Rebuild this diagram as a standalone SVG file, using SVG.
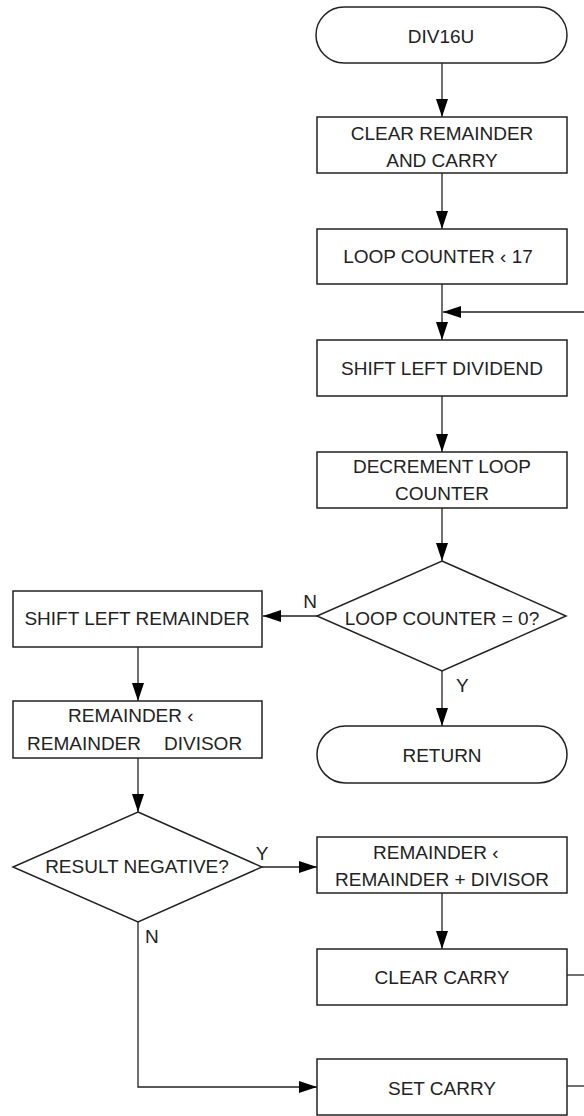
<svg xmlns="http://www.w3.org/2000/svg" width="584" height="1116" viewBox="0 0 584 1116">
<style>
.shape{fill:#fff;stroke:#222;stroke-width:1.5}
.conn{fill:none;stroke:#222;stroke-width:1.3}
text{font-family:"Liberation Sans",Arial,sans-serif;font-size:19px;fill:#222}
.c{text-anchor:middle}
</style>
<defs>
<marker id="ah" viewBox="0 0 18 12" markerWidth="18" markerHeight="12" refX="18" refY="6" orient="auto" markerUnits="userSpaceOnUse">
<path d="M0,0 L18,6 L0,12 z" fill="#000"/>
</marker>
</defs>
<g id="connectors">
<path class="conn" d="M442,63 V117" marker-end="url(#ah)"/>
<path class="conn" d="M442,173 V229" marker-end="url(#ah)"/>
<path class="conn" d="M442,284 V340" marker-end="url(#ah)"/>
<path class="conn" d="M584,312 H443" marker-end="url(#ah)"/>
<path class="conn" d="M442,396 V452" marker-end="url(#ah)"/>
<path class="conn" d="M442,508 V561" marker-end="url(#ah)"/>
<path class="conn" d="M317,616 H263" marker-end="url(#ah)"/>
<path class="conn" d="M442,671 V726" marker-end="url(#ah)"/>
<path class="conn" d="M138,647 V701" marker-end="url(#ah)"/>
<path class="conn" d="M138,758 V812" marker-end="url(#ah)"/>
<path class="conn" d="M262,867 H317" marker-end="url(#ah)"/>
<path class="conn" d="M442,893 V949" marker-end="url(#ah)"/>
<path class="conn" d="M138,922 V1087 H317" marker-end="url(#ah)"/>
<path class="conn" d="M567,975 H584"/>
<path class="conn" d="M567,1086 H584"/>
<text x="310" y="608" class="c">N</text>
<text x="456" y="692">Y</text>
<text x="262" y="860" class="c">Y</text>
<text x="145" y="943">N</text>
</g>
<g id="start">
<rect class="shape" x="316" y="7" width="251" height="56" rx="28"/>
<text x="441" y="43" class="c">DIV16U</text>
</g>
<g id="clear-remainder">
<rect class="shape" x="317" y="117" width="250" height="56"/>
<text x="442" y="140" class="c">CLEAR REMAINDER</text>
<text x="442" y="167" class="c">AND CARRY</text>
</g>
<g id="loop-counter">
<rect class="shape" x="317" y="229" width="250" height="55"/>
<text x="438" y="263" class="c">LOOP COUNTER ‹ 17</text>
</g>
<g id="shift-dividend">
<rect class="shape" x="317" y="340" width="250" height="56"/>
<text x="442" y="375" class="c">SHIFT LEFT DIVIDEND</text>
</g>
<g id="decrement">
<rect class="shape" x="317" y="452" width="250" height="56"/>
<text x="442" y="473" class="c">DECREMENT LOOP</text>
<text x="442" y="500" class="c">COUNTER</text>
</g>
<g id="loop-zero">
<polygon class="shape" points="442,561 566,616 442,671 317,616"/>
<text x="442" y="625" class="c">LOOP COUNTER = 0?</text>
</g>
<g id="return">
<rect class="shape" x="317" y="726" width="250" height="57" rx="28.5"/>
<text x="442" y="762" class="c">RETURN</text>
</g>
<g id="shift-remainder">
<rect class="shape" x="13" y="591" width="249" height="56"/>
<text x="137" y="625" class="c">SHIFT LEFT REMAINDER</text>
</g>
<g id="subtract">
<rect class="shape" x="13" y="701" width="249" height="57"/>
<text x="68" y="722">REMAINDER ‹</text>
<text x="27" y="750">REMAINDER</text>
<text x="164" y="750">DIVISOR</text>
</g>
<g id="negative">
<polygon class="shape" points="138,812 262,867 138,922 13,867"/>
<text x="137" y="873" class="c">RESULT NEGATIVE?</text>
</g>
<g id="add-back">
<rect class="shape" x="317" y="837" width="250" height="56"/>
<text x="373" y="859">REMAINDER ‹</text>
<text x="442" y="886" class="c">REMAINDER + DIVISOR</text>
</g>
<g id="clear-carry">
<rect class="shape" x="317" y="949" width="250" height="56"/>
<text x="442" y="984" class="c">CLEAR CARRY</text>
</g>
<g id="set-carry">
<rect class="shape" x="317" y="1059" width="250" height="56"/>
<text x="442" y="1095" class="c">SET CARRY</text>
</g>
</svg>
